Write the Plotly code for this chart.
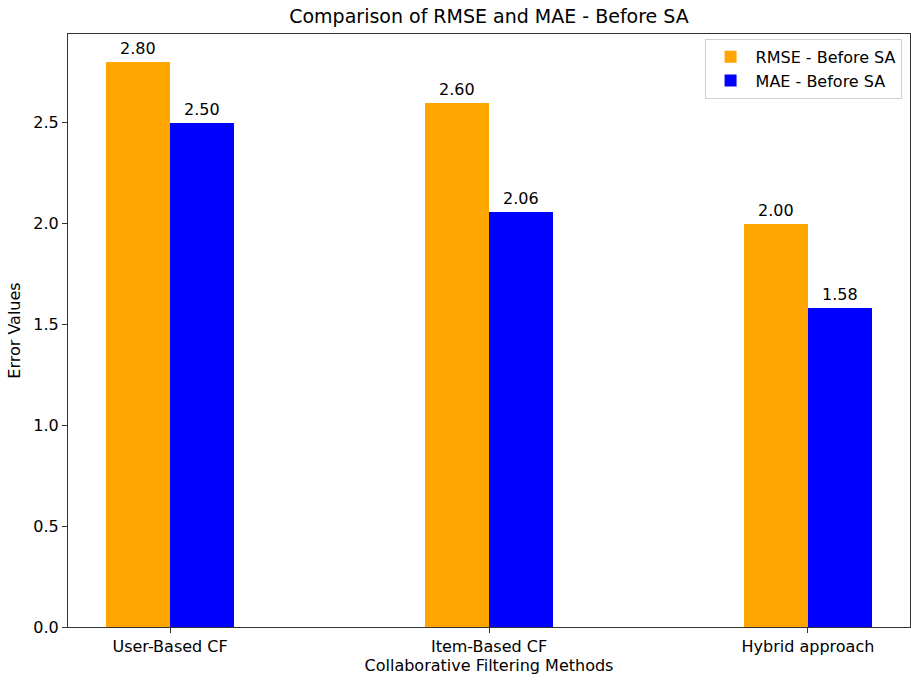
import plotly.graph_objects as go

categories = ["User-Based CF", "Item-Based CF", "Hybrid approach"]
rmse_before = [2.80, 2.60, 2.00]
mae_before = [2.50, 2.06, 1.58]
y_ticks = [0.0, 0.5, 1.0, 1.5, 2.0, 2.5]

x_pos = list(range(len(categories)))
bar_w = 0.2
FS = 16

fig = go.Figure()
fig.add_trace(go.Bar(x=x_pos, y=rmse_before, width=bar_w, offset=-bar_w,
                     marker=dict(color="#FFA500", line=dict(width=0)),
                     name="RMSE - Before SA"))
fig.add_trace(go.Bar(x=x_pos, y=mae_before, width=bar_w, offset=0,
                     marker=dict(color="#0000FF", line=dict(width=0)),
                     name="MAE - Before SA"))

annotations = []
for i, v in enumerate(rmse_before):
    annotations.append(dict(x=x_pos[i] - bar_w / 2, y=v, text=f"{v:.2f}", showarrow=False,
                            xref="x", yref="y", yanchor="bottom", yshift=2,
                            font=dict(size=FS, color="black")))
for i, v in enumerate(mae_before):
    annotations.append(dict(x=x_pos[i] + bar_w / 2, y=v, text=f"{v:.2f}", showarrow=False,
                            xref="x", yref="y", yanchor="bottom", yshift=2,
                            font=dict(size=FS, color="black")))

fig.update_layout(
    width=911, height=682,
    margin=dict(l=68, r=1, t=34, b=55),
    paper_bgcolor="white", plot_bgcolor="white",
    font=dict(family="DejaVu Sans", size=FS, color="black"),
    title=dict(text="Comparison of RMSE and MAE - Before SA", x=(68 + 910) / 2 / 911,
               xanchor="center", y=1 - 16 / 682, yanchor="middle",
               font=dict(size=19, color="black")),
    annotations=annotations,
    showlegend=True,
    legend=dict(x=0.99, y=0.992, xanchor="right", yanchor="top",
                bordercolor="#d0d0d0", borderwidth=1, bgcolor="rgba(255,255,255,0.8)",
                font=dict(size=FS), itemwidth=40, tracegroupgap=2),
    bargap=0,
)
fig.update_xaxes(range=[-0.32, 2.32], tickvals=x_pos, ticktext=categories,
                 showline=True, linecolor="#333333", linewidth=1.2, mirror=True,
                 ticks="outside", ticklen=5, tickcolor="#333333", showgrid=False,
                 zeroline=False,
                 title=dict(text="Collaborative Filtering Methods", standoff=4,
                            font=dict(size=FS)))
fig.update_yaxes(range=[0, 2.94], tickvals=y_ticks, tickformat=".1f",
                 showline=True, linecolor="#333333", linewidth=1.2, mirror=True,
                 ticks="outside", ticklen=5, tickcolor="#333333", showgrid=False,
                 zeroline=False,
                 title=dict(text="Error Values", standoff=8, font=dict(size=FS)))

fig.write_html("out.html", config={"displayModeBar": False},
               post_script="document.body.style.margin='0';")
